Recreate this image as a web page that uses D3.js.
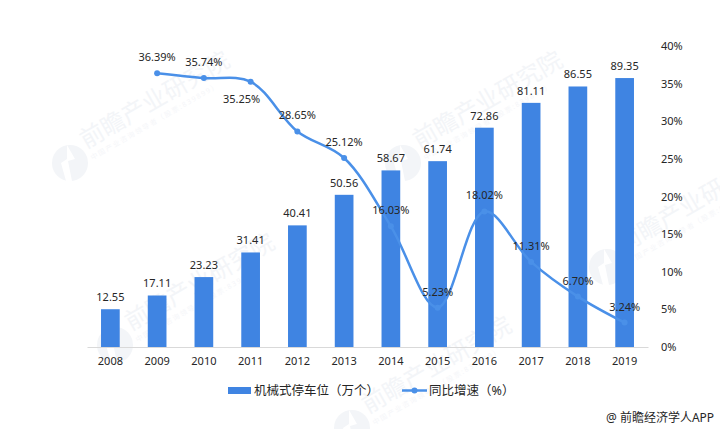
<!DOCTYPE html>
<html><head><meta charset="utf-8">
<script src="https://cdn.jsdelivr.net/npm/d3@7/dist/d3.min.js"></script>
<style>
html,body{margin:0;padding:0;background:#fff}
svg{display:block}
text{font-family:"Noto Sans","Noto Sans CJK SC",sans-serif}
</style></head><body>
<svg id="c" width="720" height="429"></svg>
<script>
const years = ["2008","2009","2010","2011","2012","2013","2014","2015","2016","2017","2018","2019"];
const spaces = [12.55,17.11,23.23,31.41,40.41,50.56,58.67,61.74,72.86,81.11,86.55,89.35];
const growthYears = years.slice(1);
const growth = [36.39,35.74,35.25,28.65,25.12,16.03,5.23,18.02,11.31,6.70,3.24];
const rightTicks = [0,5,10,15,20,25,30,35,40];
const barName = "机械式停车位（万个）";
const lineName = "同比增速（%）";
const credit = "@ 前瞻经济学人APP";

const svg = d3.select("#c");
const H = {left:87,right:648,top:46,bottom:347};
const x = d3.scaleBand().domain(years).range([H.left,H.right]).paddingInner(0.6).paddingOuter(0.3);
const yL = d3.scaleLinear().domain([0,100]).range([H.bottom,H.top]);
const yR = d3.scaleLinear().domain([0,40]).range([H.bottom,H.top]);
const cx = y => x(y)+x.bandwidth()/2;
const BAR="#3f84e2", LINE="#4a90e8", TXT="#262626";

// watermarks
const wm = svg.append("g");
[[70,163],[115,345],[403,163],[607,267],[352,428]].forEach(([a,b])=>{
  const g = wm.append("g").attr("transform",`translate(${a},${b})`);
  g.append("circle").attr("r",18).attr("fill","#f3f5f8");
  g.append("path").attr("d","M-3,-18 L5,-4 L-2,-2 L2,18 L-4,18 L-9,0 L-3,-4 Z").attr("fill","#fff");
  const t = g.append("g").attr("transform","translate(16,-14) rotate(-30)");
  t.append("text").attr("font-size",24).attr("fill","#f3f5f8").text("前瞻产业研究院");
  t.append("text").attr("y",13).attr("font-size",7).attr("letter-spacing",1.5).attr("fill","#f5f6f9").text("中国产业咨询领导者（股票:839899）");
});

// bars
svg.append("g").selectAll("rect").data(years).join("rect")
  .attr("x",d=>x(d)).attr("width",x.bandwidth())
  .attr("y",(d,i)=>yL(spaces[i])).attr("height",(d,i)=>H.bottom-yL(spaces[i]))
  .attr("fill",BAR);

// baseline + x axis
const ax = svg.append("g").attr("transform",`translate(0,${H.bottom})`)
  .call(d3.axisBottom(x).tickSize(0).tickPadding(10));
ax.select(".domain").attr("stroke","#d9d9d9").attr("stroke-width",1);
ax.selectAll("text").attr("font-size",11).attr("fill",TXT).attr("font-family",'"Noto Sans"');

// right axis
const ar = svg.append("g").attr("transform",`translate(661,0)`)
  .call(d3.axisRight(yR).tickValues(rightTicks).tickSize(0).tickPadding(0).tickFormat(d=>d+"%"));
ar.select(".domain").remove();
ar.selectAll("text").attr("font-size",11).attr("fill",TXT).attr("font-family",'"Noto Sans"');

// bar labels
svg.append("g").selectAll("text").data(years).join("text")
  .attr("x",d=>cx(d)).attr("y",(d,i)=>yL(spaces[i])-8)
  .attr("text-anchor","middle").attr("font-size",11).attr("fill",TXT)
  .text((d,i)=>spaces[i].toFixed(2));

// line
const line = d3.line().x(d=>cx(d)).y((d,i)=>yR(growth[i])).curve(d3.curveCatmullRom.alpha(0.5));
svg.append("path").datum(growthYears).attr("d",line).attr("fill","none")
  .attr("stroke",LINE).attr("stroke-width",2.5);
svg.append("g").selectAll("circle").data(growthYears).join("circle")
  .attr("cx",d=>cx(d)).attr("cy",(d,i)=>yR(growth[i])).attr("r",3).attr("fill",LINE);

// line labels
svg.append("g").selectAll("text").data(growthYears).join("text")
  .attr("x",(d,i)=>cx(d)+(i===2?-9:0))
  .attr("y",(d,i)=>yR(growth[i])+(i===2?21:-12))
  .attr("text-anchor","middle").attr("font-size",11).attr("fill",TXT)
  .text((d,i)=>growth[i].toFixed(2)+"%");

// legend
const lg = svg.append("g");
lg.append("rect").attr("x",228).attr("y",387).attr("width",23).attr("height",7).attr("fill",BAR);
lg.append("text").attr("x",254).attr("y",395).attr("font-size",12.5).attr("fill",TXT).text(barName);
lg.append("line").attr("x1",402).attr("x2",427).attr("y1",390.5).attr("y2",390.5).attr("stroke",LINE).attr("stroke-width",2.5);
lg.append("circle").attr("cx",414.5).attr("cy",390.5).attr("r",3).attr("fill",LINE);
lg.append("text").attr("x",429).attr("y",395).attr("font-size",12.5).attr("fill",TXT).text(lineName);

svg.append("text").attr("x",606).attr("y",422).attr("font-size",12).attr("fill",TXT).text(credit);
</script>
</body></html>
